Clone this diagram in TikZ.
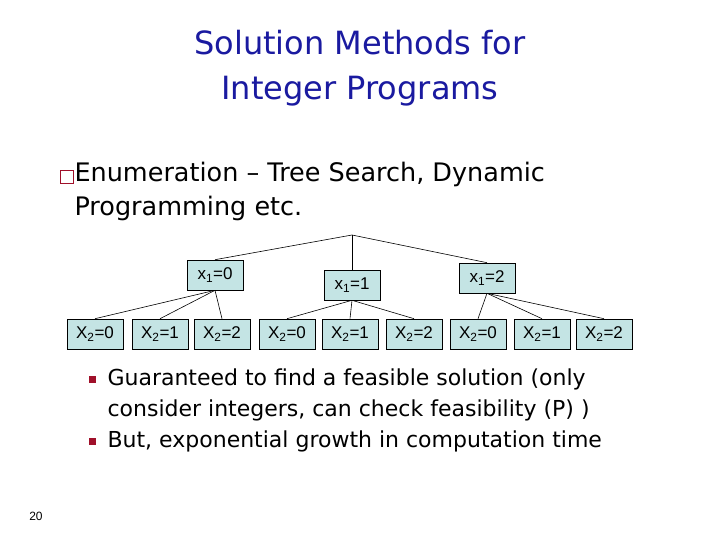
\documentclass[tikz,border=0pt]{standalone}
\usepackage{fontspec}
\setmainfont{DejaVu Sans}
\newfontfamily\arialf{Liberation Sans}
\definecolor{titleblue}{HTML}{1A1AA0}
\definecolor{boxfill}{HTML}{C4E4E4}
\definecolor{bulletred}{HTML}{A0102A}
\begin{document}
\begin{tikzpicture}[x=1pt,y=-1pt,
  tbox/.style={draw=black,fill=boxfill,line width=0.6pt,minimum width=56pt,minimum height=30pt,inner sep=1pt,font=\arialf\fontsize{17}{19}\selectfont},
  edge/.style={draw=black,line width=0.6pt}]
\useasboundingbox (0,0) rectangle (720,540);
\fill[white] (0,0) rectangle (720,540);
\node[titleblue,align=center,font=\fontsize{32}{45}\selectfont] (title) at (360,68) {Solution Methods for\\Integer Programs};
\node[draw=bulletred,line width=1.4pt,minimum size=13pt,inner sep=0pt] (b0) at (67,177) {};
\node[anchor=north west,align=left,font=\fontsize{25.5}{34}\selectfont] (t0) at (71,159) {Enumeration -- Tree Search, Dynamic\\Programming etc.};
\coordinate (root) at (352,235);
\node[tbox] (a0) at (215,275) {x\textsubscript{1}=0};
\node[tbox] (a1) at (352,285) {x\textsubscript{1}=1};
\node[tbox] (a2) at (487,278) {x\textsubscript{1}=2};
\foreach \i/\x/\v in {0/95/0,1/160/1,2/222/2,3/287/0,4/350/1,5/414/2,6/478/0,7/542/1,8/604/2}
  \node[tbox] (c\i) at (\x,334) {X\textsubscript{2}=\v};
\foreach \a in {a0,a1,a2} \draw[edge] (root) -- (\a.north);
\foreach \c in {c0,c1,c2} \draw[edge] (a0.south) -- (\c.north);
\foreach \c in {c3,c4,c5} \draw[edge] (a1.south) -- (\c.north);
\foreach \c in {c6,c7,c8} \draw[edge] (a2.south) -- (\c.north);
\fill[bulletred] (89,376) rectangle (96,383);
\fill[bulletred] (89,438) rectangle (96,445);
\node[anchor=north west,align=left,font=\fontsize{22}{31}\selectfont] (t1) at (104,365) {Guaranteed to find a feasible solution (only\\consider integers, can check feasibility (P) )};
\node[anchor=north west,font=\fontsize{22}{31}\selectfont] (t2) at (104,427) {But, exponential growth in computation time};
\node[font=\arialf\fontsize{12}{14}\selectfont] (pg) at (36,516) {20};
\end{tikzpicture}
\end{document}
